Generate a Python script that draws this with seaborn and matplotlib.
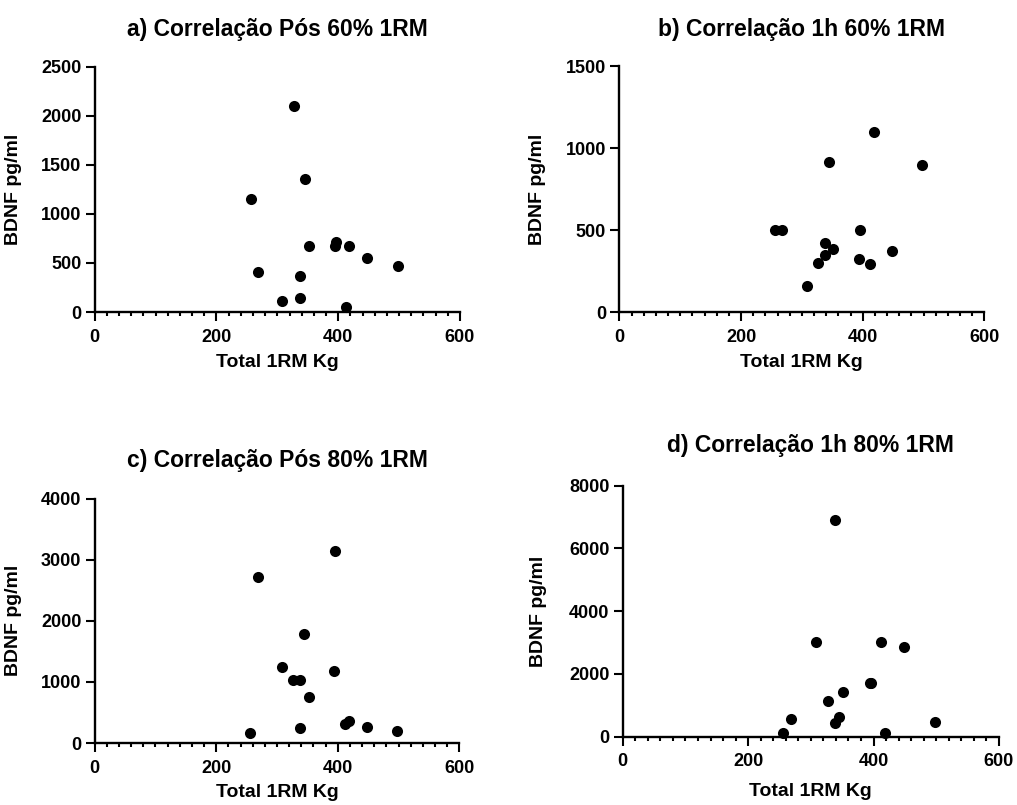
import matplotlib
matplotlib.use("Agg")
import matplotlib.pyplot as plt
import seaborn as sns
import pandas as pd
from matplotlib.ticker import MultipleLocator

sns.set_style("ticks")
plt.rcParams['font.family'] = ['Liberation Sans', 'DejaVu Sans']
plt.rcParams['font.weight'] = 'bold'
plt.rcParams['text.color'] = 'black'
plt.rcParams['axes.labelcolor'] = 'black'
plt.rcParams['xtick.color'] = 'black'
plt.rcParams['ytick.color'] = 'black'

# Data
total_1rm = [256, 268, 308, 327, 338, 338, 345, 352, 394, 396, 412, 418, 448, 498]
bdnf_pos_60 = [1150, 409, 109, 2100, 368, 147, 1360, 672, 672, 713, 55, 672, 546, 464]
bdnf_1h_60 = [500, 500, 159, 296, 418, 349, 912, 382, 322, 500, 294, 1095, 371, 898]
bdnf_pos_80 = [159, 2716, 1251, 1031, 1031, 252, 1783, 746, 1180, 3149, 313, 368, 269, 198]
bdnf_1h_80 = [127, 563, 3017, 1126, 6906, 425, 637, 1424, 1721, 1721, 3007, 127, 2847, 457]

titles = ["a) Correlação Pós 60% 1RM", "b) Correlação 1h 60% 1RM",
          "c) Correlação Pós 80% 1RM", "d) Correlação 1h 80% 1RM"]
series = [bdnf_pos_60, bdnf_1h_60, bdnf_pos_80, bdnf_1h_80]
ymaxes = [2500, 1500, 4000, 8000]
ysteps = [500, 500, 1000, 2000]
xlabel = "Total 1RM Kg"
ylabel = "BDNF pg/ml"

positions = [
    [0.0931, 0.6124, 0.3592, 0.3047],
    [0.6090, 0.6124, 0.3589, 0.3056],
    [0.0931, 0.0770, 0.3585, 0.3035],
    [0.6123, 0.0849, 0.3700, 0.3118],
]
title_pads = [22, 21.6, 23, 24]
xlabel_y = [-0.172, -0.172, -0.169, -0.183]

fig = plt.figure(figsize=(10.17, 8.05), dpi=100)
for pos, title, ys, ymax, ystep, pad, xly in zip(positions, titles, series, ymaxes,
                                                ysteps, title_pads, xlabel_y):
    ax = fig.add_axes(pos)
    df = pd.DataFrame({"x": total_1rm, "y": ys})
    sns.scatterplot(data=df, x="x", y="y", ax=ax, color="black", s=64,
                    edgecolor="black", linewidth=0, clip_on=False, zorder=5)
    ax.set_xlim(0, 600)
    ax.set_ylim(0, ymax)
    ax.xaxis.set_major_locator(MultipleLocator(200))
    ax.xaxis.set_minor_locator(MultipleLocator(20))
    ax.yaxis.set_major_locator(MultipleLocator(ystep))
    for sp in ["top", "right"]:
        ax.spines[sp].set_visible(False)
    for sp in ["left", "bottom"]:
        ax.spines[sp].set_linewidth(1.7)
        ax.spines[sp].set_color("black")
    ax.tick_params(axis="both", which="major", length=6.5, width=1.5, color="black",
                   labelsize=13, labelcolor="black")
    ax.tick_params(axis="x", which="major", pad=5.5)
    ax.tick_params(axis="y", which="major", pad=3)
    ax.tick_params(axis="x", which="minor", length=3.2, width=1.5, color="black")
    for lab in ax.get_xticklabels() + ax.get_yticklabels():
        lab.set_fontweight("bold")
    ax.set_title(title, fontsize=16.5, fontweight="bold", pad=pad, color="black")
    ax.set_xlabel(xlabel, fontsize=14, fontweight="bold", color="black")
    ax.set_ylabel(ylabel, fontsize=14, fontweight="bold", color="black")
    ax.yaxis.set_label_coords(-0.2, 0.5)
    ax.xaxis.set_label_coords(0.5, xly)
    ax.set_facecolor("white")

fig.savefig("out.png", dpi=100, facecolor="white")
